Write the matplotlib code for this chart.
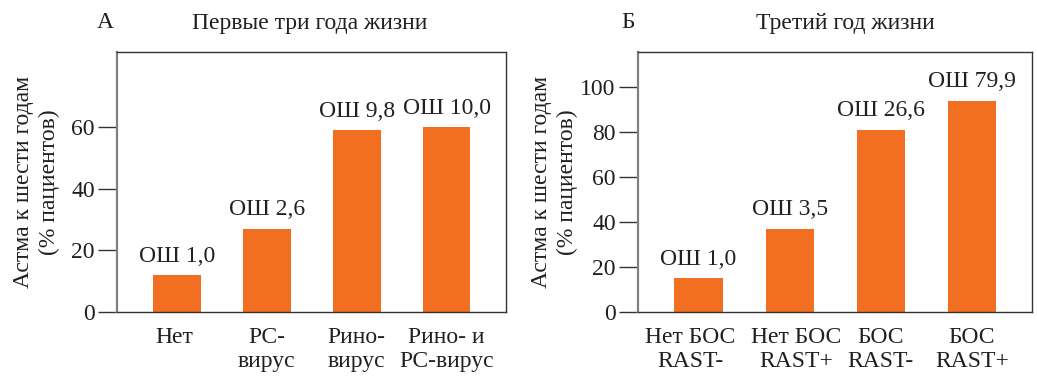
import matplotlib
matplotlib.use("Agg")
import matplotlib.pyplot as plt

plt.rcParams['font.family'] = ['Liberation Serif', 'DejaVu Serif']

# Panel A: infections during the first three years of life
cats_a = ["Нет", "РС-\nвирус", "Рино-\nвирус", "Рино- и\nРС-вирус"]
vals_a = [12, 27, 59, 60]
or_a = ["ОШ 1,0", "ОШ 2,6", "ОШ 9,8", "ОШ 10,0"]

# Panel B: wheezing / sensitisation in the third year of life
cats_b = ["Нет БОС\nRAST-", "Нет БОС\nRAST+", "БОС\nRAST-", "БОС\nRAST+"]
vals_b = [15, 37, 81, 94]
or_b = ["ОШ 1,0", "ОШ 3,5", "ОШ 26,6", "ОШ 79,9"]

ticks_a = [0, 20, 40, 60]
ticks_b = [0, 20, 40, 60, 80, 100]

BAR = "#F26F21"
TXT = "#231F20"
FS = 17

fig = plt.figure(figsize=(10.37, 3.76), dpi=100)
W, H = 1037, 376


def panel(left, right, cats, vals, labels, ticks, ymax, letter, letter_x,
          title, title_x, ylab_right, label_shift):
    ax = fig.add_axes([left / W, 1 - 312 / H, (right - left) / W, (312 - 52) / H])
    x = list(range(len(cats)))
    ax.bar(x, vals, width=0.53, color=BAR, zorder=2)
    for xi, v, t in zip(x, vals, labels):
        ax.annotate(t, (xi, v), xytext=(0, 6), textcoords="offset points",
                    ha="center", va="bottom", fontsize=FS, color=TXT)
    ax.set_xlim(-0.665, 3.66)
    ax.set_ylim(0, ymax)
    ax.set_yticks(ticks)
    # category names sit under the bars, nudged apart where they are wide
    ax.set_xticks([xi + d for xi, d in zip(x, label_shift)])
    ax.set_xticklabels(cats, fontsize=FS, color=TXT, linespacing=1.15)
    ax.tick_params(axis="x", length=0, pad=11)
    ax.tick_params(axis="y", length=14, width=1, color="#333333",
                   labelsize=FS, labelcolor=TXT, pad=2)
    for s in ("top", "right", "bottom"):
        ax.spines[s].set_color("#333333")
        ax.spines[s].set_linewidth(1.0)
    ax.spines["left"].set_color("#808080")
    ax.spines["left"].set_linewidth(1.6)
    ax.set_ylabel("Астма к шести годам\n(% пациентов)", fontsize=FS,
                  color=TXT, linespacing=1.3)
    ax.yaxis.set_label_coords((ylab_right - left) / (right - left), 0.5)
    fig.text(letter_x / W, 1 - 23 / H, letter, ha="center", va="center",
             fontsize=FS, color=TXT)
    fig.text(title_x / W, 1 - 23 / H, title, ha="center", va="center",
             fontsize=FS, color=TXT)
    return ax


panel(117, 506, cats_a, vals_a, or_a, ticks_a, 84.3,
      "А", 105, "Первые три года жизни", 310, 60, [-0.03, 0, 0, 0])
panel(638, 1032, cats_b, vals_b, or_b, ticks_b, 115.6,
      "Б", 628, "Третий год жизни", 845, 578, [-0.09, 0.07, 0, 0])

fig.savefig("out.png", dpi=100)
